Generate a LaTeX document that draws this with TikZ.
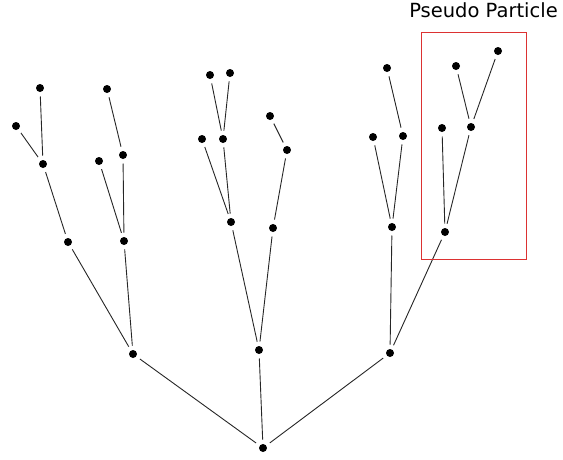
\documentclass[tikz,border=0pt]{standalone}
\usepackage{fontspec}
\setmainfont{DejaVu Sans}
\begin{document}
\begin{tikzpicture}[x=1pt,y=-1pt,
  dot/.style={circle,fill=black,inner sep=0pt,minimum size=8pt,outer sep=4.5pt},
  edge/.style={draw=black!85,line width=0.9pt},
  box/.style={draw={rgb,255:red,220;green,50;blue,50},line width=1pt}]
\useasboundingbox (0,0) rectangle (563,459);
% root and level 1
\node[dot] (r) at (263,448) {};
\node[dot] (a) at (133,354) {};
\node[dot] (b) at (259,350) {};
\node[dot] (c) at (390,353) {};
% subtree a
\node[dot] (a1) at (68,242) {};
\node[dot] (a2) at (124,241) {};
\node[dot] (a11) at (43,164) {};
\node[dot] (a111) at (40,88) {};
\node[dot] (a112) at (16,126) {};
\node[dot] (a21) at (123,155) {};
\node[dot] (a22) at (99,161) {};
\node[dot] (a211) at (107,89) {};
% subtree b
\node[dot] (b1) at (231,222) {};
\node[dot] (b2) at (273,228) {};
\node[dot] (b11) at (202,139) {};
\node[dot] (b12) at (223,139) {};
\node[dot] (b121) at (210,75) {};
\node[dot] (b122) at (230,73) {};
\node[dot] (b21) at (287,150) {};
\node[dot] (b211) at (270,116) {};
% subtree c
\node[dot] (c1) at (392,227) {};
\node[dot] (c2) at (445,232) {};
\node[dot] (c11) at (373,137) {};
\node[dot] (c12) at (403,136) {};
\node[dot] (c121) at (387,68) {};
\node[dot] (c21) at (442,128) {};
\node[dot] (c22) at (471,127) {};
\node[dot] (c221) at (456,66) {};
\node[dot] (c222) at (498,51) {};
% edges
\path[edge] (r)--(a) (r)--(b) (r)--(c)
  (a)--(a1) (a)--(a2) (a1)--(a11) (a11)--(a111) (a11)--(a112)
  (a2)--(a21) (a2)--(a22) (a21)--(a211)
  (b)--(b1) (b)--(b2) (b1)--(b11) (b1)--(b12) (b12)--(b121) (b12)--(b122)
  (b2)--(b21) (b21)--(b211)
  (c)--(c1) (c)--(c2) (c1)--(c11) (c1)--(c12) (c12)--(c121)
  (c2)--(c21) (c2)--(c22) (c22)--(c221) (c22)--(c222);
% pseudo particle box
\node[box,minimum width=105pt,minimum height=227pt,inner sep=0pt] (pp) at (473.5,145.5) {};
\node[inner sep=0pt,anchor=base] (lbl) at (483.5,17) {\fontsize{19.5}{20}\selectfont Pseudo Particle};
\end{tikzpicture}
\end{document}
